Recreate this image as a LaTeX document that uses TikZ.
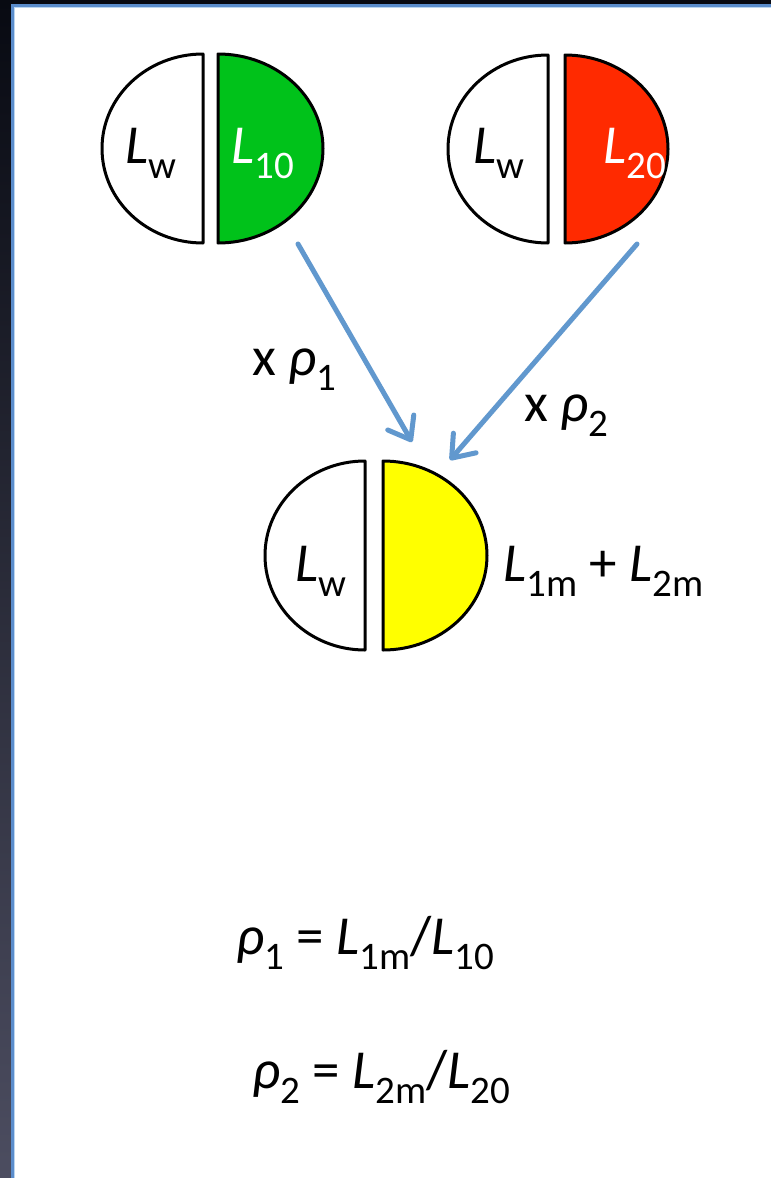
\documentclass[tikz,border=0pt]{standalone}
\usepackage{fontspec}
\usepackage{graphicx}
\setmainfont{Carlito}
\usetikzlibrary{arrows.meta}
\definecolor{bgtop}{HTML}{080A12}
\definecolor{bgmid}{HTML}{1C1C3A}
\definecolor{bgbot}{HTML}{4C4D60}
\definecolor{frameblue}{HTML}{5B8DCC}
\definecolor{framelight}{HTML}{BCD6F0}
\definecolor{arrowblue}{HTML}{6198CE}
\definecolor{halfgreen}{HTML}{00C21A}
\definecolor{halfred}{HTML}{FF2A00}
\definecolor{halfyellow}{HTML}{FFFF00}
\newcommand\sbs[1]{\raisebox{-0.28em}{\fontsize{39}{42}\selectfont #1}}
\newcommand\Lv{\textit{L}}
\newcommand\rv{\textit{ρ}}
\tikzset{
  half/.style={draw=black, line width=3pt, line join=round},
  lbl/.style={inner sep=0pt, anchor=base west, font=\fontsize{55}{64}\selectfont},
  conn/.style={draw=arrowblue, line width=5pt, line cap=round,
    -{Straight Barb[length=20pt,width=30pt,round]}}
}
\begin{document}
\begin{tikzpicture}[x=1pt,y=1pt]
\useasboundingbox (0,0) rectangle (771,-1178);
% background and panel
\shade[top color=bgtop, middle color=bgmid, bottom color=bgbot] (0,0) rectangle (771,-1178);
\fill[frameblue] (11,-4) rectangle (771,-1178);
\fill[framelight] (14,-7) rectangle (771,-1178);
\fill[white] (15,-8) rectangle (771,-1178);
% top-left pair
\draw[half, fill=white] (203,-54) arc[start angle=90,end angle=270,x radius=101,y radius=94.5] -- cycle;
\draw[half, fill=halfgreen] (218,-54) arc[start angle=90,end angle=-90,x radius=105,y radius=94.5] -- cycle;
% top-right pair
\draw[half, fill=white] (548,-55) arc[start angle=90,end angle=270,x radius=100,y radius=94] -- cycle;
\draw[half, fill=halfred] (565,-55) arc[start angle=90,end angle=-90,x radius=103,y radius=94] -- cycle;
% bottom pair
\draw[half, fill=white] (365,-461) arc[start angle=90,end angle=270,x radius=100,y radius=94.5] -- cycle;
\draw[half, fill=halfyellow] (383,-461) arc[start angle=90,end angle=-90,x radius=104,y radius=94.5] -- cycle;
% labels
\node[lbl] (lw1) at (125,-163) {\Lv\sbs{w}};
\node[lbl, text=white] (l10) at (231,-163) {\Lv\sbs{10}};
\node[lbl] (lw2) at (473,-163) {\Lv\sbs{w}};
\node[lbl, text=white] (l20) at (603,-163) {\Lv\sbs{20}};
\node[lbl] (lw3) at (295,-581) {\Lv\sbs{w}};
\node[lbl] (lsum) at (503,-581) {\Lv\sbs{1m} + \Lv\sbs{2m}};
\node[lbl] (xr1) at (252,-375) {x \rv\sbs{1}};
\node[lbl] (xr2) at (524,-421) {x \rv\sbs{2}};
\node[lbl] (eq1) at (236,-954) {\rv\sbs{1} = \Lv\sbs{1m}/\Lv\sbs{10}};
\node[lbl] (eq2) at (252,-1088) {\rv\sbs{2} = \Lv\sbs{2m}/\Lv\sbs{20}};
% arrows
\coordinate (a1s) at (298,-244);
\coordinate (a1e) at (412,-442);
\coordinate (a2s) at (637,-244);
\coordinate (a2e) at (450,-460);
\draw[conn] (a1s) -- (a1e);
\draw[conn] (a2s) -- (a2e);
\end{tikzpicture}
\end{document}
